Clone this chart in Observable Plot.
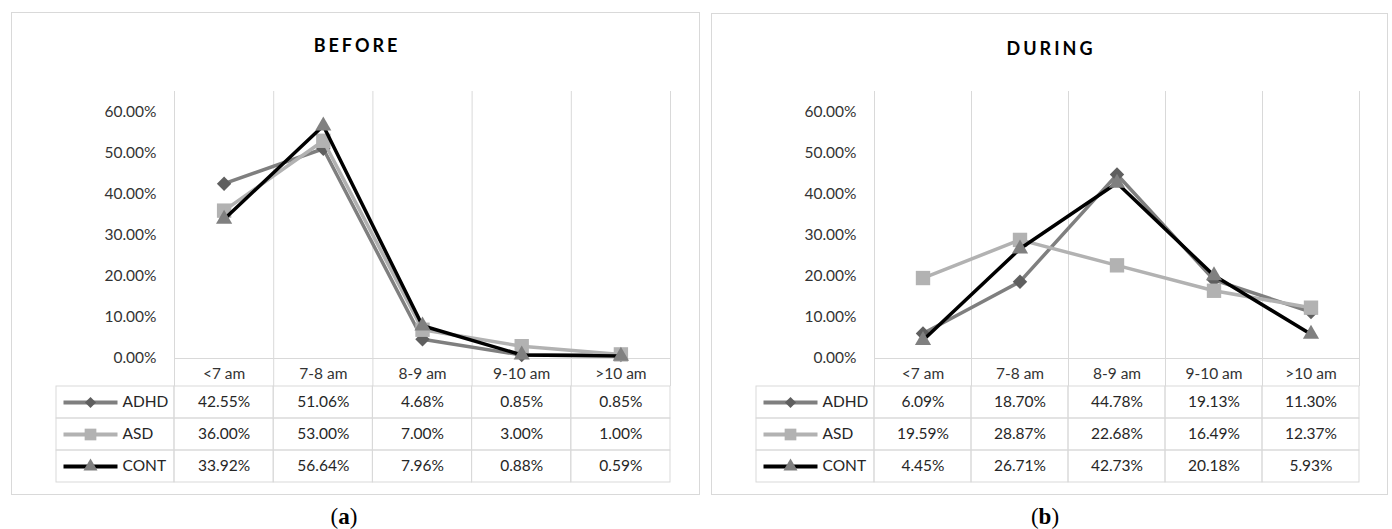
<!DOCTYPE html>
<html>
<head>
<meta charset="utf-8">
<script src="https://cdn.jsdelivr.net/npm/d3@7"></script>
<script src="https://cdn.jsdelivr.net/npm/@observablehq/plot@0.6"></script>
<style>
  html, body { margin: 0; padding: 0; background: #fff; }
  #page { position: relative; width: 1392px; height: 529px; overflow: hidden; font-family: Lato, sans-serif; }
  .panel { position: absolute; border: 1px solid #d9d9d9; box-sizing: border-box; }
  .title { position: absolute; text-align: center; font: bold 18px Lato, sans-serif; letter-spacing: 3px; line-height: 22px; color: #000; padding-left: 3px; box-sizing: border-box; }
  .caption { position: absolute; font: 23px "Liberation Serif", serif; line-height: 24px; color: #000; transform: translateX(-50%); }
  .abs { position: absolute; }
</style>
</head>
<body>
<div id="page"></div>
<script>
// Wake-up time categories and share of children (%) in each group
const categories = ["<7 am", "7-8 am", "8-9 am", "9-10 am", ">10 am"];
const seriesNames = ["ADHD", "ASD", "CONT"];

const beforeADHD = [42.55, 51.06, 4.68, 0.85, 0.85];
const beforeASD  = [36.00, 53.00, 7.00, 3.00, 1.00];
const beforeCONT = [33.92, 56.64, 7.96, 0.88, 0.59];

const duringADHD = [6.09, 18.70, 44.78, 19.13, 11.30];
const duringASD  = [19.59, 28.87, 22.68, 16.49, 12.37];
const duringCONT = [4.45, 26.71, 42.73, 20.18, 5.93];

const yTicks = [0, 10, 20, 30, 40, 50, 60];
const yMax = 65;

// Styling per series
const seriesStyle = {
  ADHD: {line: "#7f7f7f", marker: "#5f5f5f", symbol: "diamond2", r: 6.5, legendR: 5.0},
  ASD:  {line: "#b2b2b2", marker: "#b2b2b2", symbol: "square",   r: 8.1, legendR: 6.6},
  CONT: {line: "#000000", marker: "#808080", symbol: "triangle", r: 6.0, legendR: 5.2}
};

const grid = "#d9d9d9";
const textColor = "#262626";

// Layout (page pixels)
const frameTop = 91, axisY = 358, headerBottom = 386, tableBottom = 482;
const marginLeft = 163;      // panel edge -> plot frame
const legendWidth = 118;     // legend column of the data table
const swatchDx = -84, labelDx = -52;

// horizontal line swatch for the legend column
const swatchLine = {
  draw(context) { context.rect(-27, -2, 54, 4); }
};

const pct = v => v.toFixed(2) + "%";

const panels = [
  {label: "a", title: "BEFORE", values: {ADHD: beforeADHD, ASD: beforeASD, CONT: beforeCONT},
   box: {left: 11, top: 12, right: 700, bottom: 495}, plotRight: 670, captionX: 344, titleY: 45},
  {label: "b", title: "DURING", values: {ADHD: duringADHD, ASD: duringASD, CONT: duringCONT},
   box: {left: 711, top: 13, right: 1388, bottom: 495}, plotRight: 1359, captionX: 1045, titleY: 48}
];

const page = document.getElementById("page");

for (const p of panels) {
  const {box} = p;
  const width = box.right - box.left;
  const marginRight = box.right - p.plotRight;
  const bw = (p.plotRight - (box.left + marginLeft)) / categories.length;

  const rows = seriesNames.flatMap(s =>
    categories.map((c, i) => ({series: s, cat: c, value: p.values[s][i]}))
  );

  const frame = document.createElement("div");
  frame.className = "panel";
  Object.assign(frame.style, {
    left: box.left + "px", top: box.top + "px",
    width: width + "px", height: (box.bottom - box.top) + "px"
  });
  page.appendChild(frame);

  const style = {background: "transparent", fontFamily: "Lato, sans-serif", fontSize: "15.5px", color: "#333333", overflow: "visible"};

  // line chart with the category header row below it
  const chart = Plot.plot({
    width,
    height: headerBottom,
    marginTop: frameTop,
    marginBottom: headerBottom - axisY,
    marginLeft,
    marginRight,
    style,
    x: {type: "band", domain: categories, padding: 0, round: false, tickSize: 0, tickPadding: 9, label: null},
    y: {domain: [0, yMax], ticks: yTicks, tickFormat: pct, tickSize: 0, tickPadding: 18, label: null},
    marks: [
      Plot.ruleX(categories, {x: d => d, dx: -bw / 2, stroke: grid, insetBottom: -(headerBottom - axisY)}),
      Plot.ruleX(categories.slice(-1), {x: d => d, dx: bw / 2, stroke: grid, insetBottom: -(headerBottom - axisY)}),
      Plot.ruleY([0], {stroke: grid}),
      ...seriesNames.flatMap(s => {
        const st = seriesStyle[s];
        const data = rows.filter(d => d.series === s);
        return [
          Plot.line(data, {x: "cat", y: "value", stroke: st.line, strokeWidth: 3.5}),
          Plot.dot(data, {x: "cat", y: "value", symbol: st.symbol, r: st.r, fill: st.marker})
        ];
      })
    ]
  });
  chart.classList.add("abs");
  chart.style.left = box.left + "px";
  chart.style.top = "0px";
  page.appendChild(chart);

  // data table with legend column
  const table = Plot.plot({
    width,
    height: tableBottom - headerBottom + 1,
    marginTop: 0,
    marginBottom: 1,
    marginLeft,
    marginRight,
    style,
    x: {type: "band", domain: categories, padding: 0, round: false, axis: null},
    y: {type: "band", domain: seriesNames, padding: 0, round: false, axis: null},
    marks: [
      Plot.cell(rows, {x: "cat", y: "series", fill: "none", stroke: grid}),
      Plot.cell(seriesNames, {x: () => categories[0], y: d => d, insetLeft: -legendWidth, insetRight: bw, fill: "none", stroke: grid}),
      Plot.text(rows, {x: "cat", y: "series", text: d => pct(d.value), fill: textColor}),
      ...seriesNames.flatMap(s => {
        const st = seriesStyle[s];
        return [
          Plot.dot([s], {y: d => d, frameAnchor: "left", dx: swatchDx, symbol: swatchLine, r: 3, fill: st.line}),
          Plot.dot([s], {y: d => d, frameAnchor: "left", dx: swatchDx, symbol: st.symbol, r: st.legendR, fill: st.marker})
        ];
      }),
      Plot.text(seriesNames, {y: d => d, text: d => d, frameAnchor: "left", dx: labelDx, textAnchor: "start", fill: textColor})
    ]
  });
  table.classList.add("abs");
  table.style.left = box.left + "px";
  table.style.top = headerBottom + "px";
  page.appendChild(table);

  const title = document.createElement("div");
  title.className = "title";
  title.textContent = p.title;
  Object.assign(title.style, {left: box.left + "px", width: width + "px", top: (p.titleY - 11) + "px"});
  page.appendChild(title);

  const cap = document.createElement("div");
  cap.className = "caption";
  cap.innerHTML = "(<b>" + p.label + "</b>)";
  Object.assign(cap.style, {left: p.captionX + "px", top: (517 - 12) + "px"});
  page.appendChild(cap);
}
</script>
</body>
</html>
